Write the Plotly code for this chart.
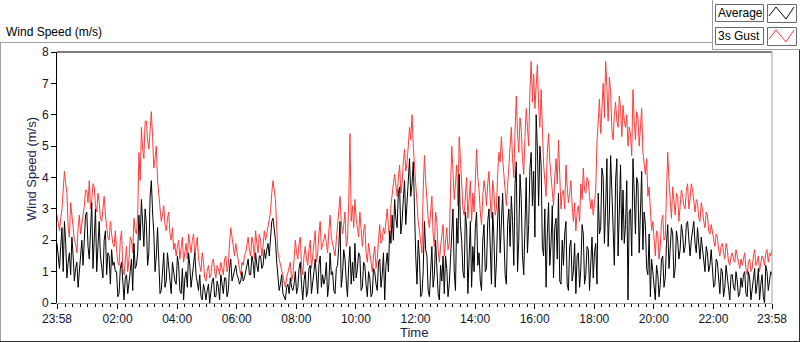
import plotly.graph_objects as go
import pandas as pd

# ---- data: samples every 5 min from 23:58 (one row per hour) ----
gust_h = [
    [2.8, 2.3, 3.0, 4.2, 3.5, 2.1, 2.7, 2.0, 1.6, 2.8, 2.5, 3.1],
    [3.6, 3.9, 3.3, 3.7, 2.9, 3.2, 2.6, 3.4, 2.4, 2.0, 2.2, 1.8],
    [1.7, 1.2, 2.3, 0.9, 1.8, 1.4, 2.0, 2.7, 2.2, 4.8, 5.6, 4.6],
    [5.8, 4.9, 6.1, 4.3, 5.0, 3.4, 2.6, 3.1, 2.3, 2.9, 2.0, 1.7],
    [1.5, 2.0, 1.7, 1.3, 1.9, 2.2, 1.6, 2.2, 1.8, 1.4, 1.0, 1.3],
    [0.7, 1.2, 0.9, 1.4, 0.8, 1.1, 1.3, 0.9, 1.5, 1.2, 2.4, 1.7],
    [1.9, 1.4, 0.9, 1.2, 1.6, 2.1, 1.5, 1.9, 2.3, 1.6, 2.0, 1.8],
    [2.0, 2.4, 2.9, 3.9, 3.3, 1.6, 1.2, 0.8, 0.5, 1.0, 1.3, 0.9],
    [2.0, 1.4, 2.1, 0.9, 1.8, 1.2, 2.0, 1.5, 2.3, 1.6, 2.6, 1.9],
    [2.2, 1.6, 2.8, 1.9, 1.5, 2.4, 3.4, 2.2, 2.9, 2.0, 5.4, 3.1],
    [3.3, 2.4, 2.9, 1.8, 2.5, 1.3, 1.6, 1.0, 1.8, 1.4, 2.5, 2.0],
    [2.2, 3.0, 2.0, 3.6, 4.1, 3.4, 4.4, 3.8, 4.9, 4.5, 5.6, 6.0],
    [4.4, 3.0, 2.3, 1.6, 4.7, 3.2, 2.4, 3.4, 1.8, 2.6, 1.3, 2.1],
    [1.5, 2.4, 1.9, 5.0, 3.3, 4.4, 5.3, 3.9, 2.8, 4.0, 3.2, 2.6],
    [2.9, 4.9, 3.6, 2.5, 3.9, 3.1, 4.2, 2.7, 3.5, 3.0, 4.8, 5.3],
    [4.2, 3.1, 4.5, 5.6, 4.0, 6.6, 4.8, 5.5, 4.1, 6.2, 5.0, 7.7],
    [7.3, 7.0, 6.3, 6.8, 4.4, 3.4, 5.4, 4.0, 3.1, 4.6, 5.2, 3.0],
    [3.6, 4.4, 3.2, 3.9, 2.6, 2.3, 3.1, 3.8, 4.3, 3.5, 3.9, 3.0],
    [2.8, 3.6, 6.0, 5.4, 7.0, 7.7, 5.8, 6.7, 5.2, 6.4, 5.6, 6.2],
    [6.3, 5.6, 5.0, 5.4, 6.8, 5.2, 5.9, 5.5, 4.8, 4.1, 3.4, 2.8],
    [2.6, 1.5, 2.2, 1.8, 2.8, 2.1, 4.8, 3.2, 3.7, 2.8, 3.4, 3.0],
    [3.4, 3.0, 3.8, 3.3, 3.6, 2.9, 3.2, 2.6, 3.0, 2.4, 2.8, 2.2],
    [2.3, 1.8, 2.1, 1.5, 1.9, 1.4, 1.7, 1.2, 1.6, 1.3, 1.5, 1.1],
    [1.2, 1.6, 0.9, 1.4, 1.1, 1.7, 1.3, 1.0, 1.5, 1.2, 1.7, 1.6, 1.7],
]
# readings half-way (2.5 min later) between the samples above
gust_mid_h = [
    [2.5, 2.7, 3.6, 3.8, 2.4, 3.2, 2.2, 1.9, 2.4, 2.2, 2.9, 3.6],
    [3.2, 3.0, 3.8, 3.1, 3.5, 2.7, 3.0, 2.8, 2.1, 2.6, 1.9, 2.3],
    [1.3, 2.0, 1.1, 1.5, 1.0, 2.1, 1.6, 2.3, 2.8, 3.9, 4.9, 5.8],
    [5.2, 5.5, 5.3, 4.6, 3.9, 3.0, 2.8, 2.5, 2.7, 2.2, 2.4, 1.9],
    [1.8, 1.4, 2.1, 1.6, 1.4, 1.9, 2.0, 1.5, 2.1, 1.2, 1.6, 0.8],
    [1.0, 0.8, 1.3, 1.0, 1.2, 0.9, 1.1, 1.4, 1.0, 1.9, 2.1, 1.5],
    [1.6, 1.1, 1.3, 1.5, 1.9, 1.7, 2.1, 1.4, 1.9, 2.2, 1.5, 2.3],
    [2.2, 2.7, 3.5, 3.6, 2.4, 1.4, 1.0, 0.6, 0.8, 1.2, 0.7, 1.4],
    [1.6, 1.9, 1.2, 1.5, 1.4, 1.7, 1.1, 2.0, 1.3, 2.2, 1.7, 2.1],
    [1.9, 2.3, 2.1, 1.7, 2.0, 2.9, 2.6, 2.5, 1.8, 3.2, 2.6, 2.4],
    [2.7, 2.1, 2.2, 2.3, 1.6, 1.9, 1.2, 1.5, 1.1, 2.0, 1.9, 2.4],
    [2.6, 2.4, 3.1, 3.8, 3.7, 4.0, 3.5, 4.5, 4.2, 5.0, 5.2, 5.0],
    [3.7, 2.6, 1.9, 3.6, 3.9, 2.7, 3.0, 2.2, 2.9, 1.7, 1.8, 2.5],
    [2.0, 1.7, 3.6, 4.2, 3.8, 3.1, 4.6, 3.0, 3.6, 2.7, 3.9, 3.5],
    [3.8, 4.0, 2.9, 3.4, 3.6, 3.8, 3.3, 3.9, 2.8, 4.1, 4.5, 4.6],
    [3.6, 3.8, 5.1, 4.6, 5.5, 5.4, 5.9, 4.6, 5.3, 5.6, 6.8, 6.4],
    [6.2, 7.6, 5.6, 5.2, 3.9, 4.8, 4.5, 3.5, 4.0, 3.8, 4.1, 3.5],
    [3.0, 3.7, 3.5, 3.1, 3.2, 2.9, 2.6, 3.3, 3.6, 4.0, 3.4, 3.3],
    [3.2, 5.1, 6.5, 6.3, 5.9, 6.9, 7.2, 5.5, 6.0, 5.8, 6.6, 5.3],
    [5.8, 6.0, 5.6, 4.7, 5.8, 6.1, 5.0, 6.2, 4.4, 4.6, 3.7, 2.3],
    [1.9, 2.3, 1.4, 2.6, 2.0, 3.5, 3.9, 2.7, 3.1, 3.5, 2.6, 3.6],
    [3.1, 3.6, 3.0, 3.8, 3.2, 3.3, 2.7, 3.2, 2.6, 2.9, 2.3, 2.5],
    [2.0, 2.2, 1.7, 1.8, 1.6, 1.9, 1.3, 1.5, 1.4, 1.7, 1.2, 1.4],
    [1.4, 1.1, 1.3, 1.0, 1.5, 1.2, 1.5, 1.3, 1.4, 1.6, 1.3, 1.5],
]
avg_h = [
    [1.9, 1.1, 2.4, 2.6, 0.8, 1.6, 2.1, 0.7, 1.3, 1.0, 2.0, 2.3],
    [2.9, 1.4, 3.2, 2.2, 1.0, 2.6, 1.2, 2.0, 0.9, 1.5, 1.7, 1.3],
    [1.0, 0.3, 1.3, 0.1, 0.9, 0.6, 1.4, 1.9, 1.2, 2.8, 3.3, 1.8],
    [2.5, 1.6, 3.9, 2.2, 1.5, 1.0, 0.4, 1.6, 0.7, 1.2, 0.3, 0.9],
    [0.6, 1.2, 0.3, 0.1, 1.0, 1.6, 0.5, 1.3, 0.9, 0.4, 0.2, 0.6],
    [0.1, 0.6, 0.3, 0.8, 0.2, 0.5, 0.9, 0.3, 0.8, 0.4, 1.4, 0.9],
    [1.2, 0.8, 0.7, 0.7, 1.0, 1.4, 0.9, 1.3, 1.6, 1.0, 1.5, 1.2],
    [1.4, 1.9, 2.2, 2.7, 2.0, 0.9, 0.6, 0.3, 0.1, 0.6, 0.8, 0.4],
    [1.0, 0.5, 1.3, 0.1, 1.0, 0.4, 1.2, 0.6, 1.4, 0.3, 1.5, 0.9],
    [0.8, 0.2, 1.6, 1.0, 0.3, 1.2, 2.6, 0.9, 1.4, 0.2, 1.8, 1.3],
    [1.9, 1.1, 1.5, 0.5, 1.2, 0.2, 0.8, 0.3, 1.0, 0.4, 1.4, 0.9],
    [0.1, 1.6, 2.3, 2.8, 3.3, 2.4, 3.7, 2.6, 3.9, 3.1, 4.6, 3.8],
    [2.8, 0.6, 1.4, 0.3, 2.6, 1.5, 0.2, 1.8, 0.9, 1.3, 0.1, 0.7],
    [0.3, 1.1, 0.6, 2.2, 1.0, 2.7, 4.1, 2.0, 0.8, 2.4, 1.5, 0.5],
    [1.0, 2.9, 1.6, 0.4, 2.5, 1.1, 3.0, 0.6, 2.1, 1.3, 3.4, 2.6],
    [2.2, 0.6, 3.0, 3.4, 1.2, 4.5, 2.0, 3.3, 0.9, 4.0, 2.5, 4.8],
    [4.2, 6.0, 3.1, 4.4, 1.5, 0.5, 3.2, 1.9, 0.8, 2.7, 3.5, 0.6],
    [1.2, 2.6, 0.4, 2.0, 1.0, 0.3, 1.6, 1.1, 2.2, 0.9, 1.7, 1.3],
    [0.8, 1.9, 3.5, 2.4, 4.0, 3.1, 1.8, 4.7, 2.7, 3.9, 1.5, 4.4],
    [3.6, 2.5, 0.1, 3.0, 4.6, 2.2, 3.8, 3.2, 1.7, 2.5, 0.9, 0.2],
    [1.0, 0.1, 0.9, 0.6, 1.5, 0.8, 2.5, 1.6, 2.2, 1.1, 2.0, 1.7],
    [2.2, 1.8, 2.6, 1.5, 2.3, 1.9, 2.4, 1.4, 1.7, 1.0, 1.6, 1.2],
    [1.1, 0.6, 1.3, 0.3, 1.0, 0.5, 0.8, 0.1, 0.9, 0.4, 0.7, 0.3],
    [0.5, 1.0, 0.2, 0.8, 0.4, 1.1, 0.6, 0.1, 0.9, 0.0, 1.0, 0.8, 0.9],
]
avg_mid_h = [
    [1.4, 1.8, 1.0, 1.9, 1.3, 0.9, 1.5, 1.1, 0.5, 1.7, 1.2, 2.8],
    [1.8, 2.5, 1.1, 3.0, 2.0, 1.5, 0.8, 2.3, 1.6, 0.6, 1.2, 1.0],
    [0.2, 1.1, 0.5, 0.8, 0.3, 1.0, 0.4, 1.1, 1.6, 2.0, 2.4, 3.0],
    [1.2, 3.4, 2.9, 1.0, 2.4, 0.3, 1.2, 0.5, 1.6, 0.9, 1.3, 0.7],
    [1.5, 0.4, 1.1, 0.8, 0.5, 1.2, 0.9, 1.6, 0.6, 0.9, 0.1, 0.4],
    [0.4, 0.0, 0.7, 0.2, 0.7, 0.1, 0.5, 0.8, 0.2, 1.1, 0.7, 1.1],
    [0.9, 0.6, 1.0, 0.8, 1.2, 0.9, 1.5, 0.8, 1.2, 1.5, 1.1, 1.7],
    [1.7, 1.5, 2.6, 2.3, 1.3, 0.4, 0.9, 0.2, 0.5, 0.3, 0.5, 0.6],
    [0.3, 1.1, 0.6, 0.7, 0.2, 1.1, 0.3, 1.0, 0.8, 1.2, 0.5, 0.6],
    [1.3, 0.6, 0.9, 0.4, 1.1, 1.8, 0.5, 1.7, 0.7, 1.2, 0.6, 0.7],
    [0.8, 1.6, 0.4, 1.3, 0.6, 1.0, 0.2, 1.1, 0.6, 1.3, 0.5, 1.6],
    [1.2, 1.0, 1.9, 2.0, 2.7, 3.5, 2.2, 3.3, 2.5, 3.9, 3.4, 4.5],
    [1.5, 2.0, 0.2, 1.0, 1.7, 0.4, 1.3, 0.5, 2.0, 0.3, 1.2, 1.5],
    [1.5, 0.2, 1.7, 3.0, 0.4, 1.9, 2.5, 1.0, 2.9, 0.3, 2.6, 1.8],
    [2.4, 1.2, 0.7, 2.0, 1.0, 2.6, 1.4, 2.9, 0.5, 2.7, 1.6, 3.5],
    [0.9, 2.5, 1.8, 2.6, 3.8, 1.0, 4.1, 1.5, 2.7, 1.6, 4.3, 3.1],
    [2.1, 4.9, 5.0, 1.8, 3.0, 2.2, 1.2, 3.1, 2.4, 1.4, 0.7, 2.0],
    [2.2, 0.6, 1.8, 0.7, 1.9, 1.5, 0.5, 2.5, 0.6, 1.8, 0.4, 2.1],
    [1.6, 0.6, 2.2, 4.3, 1.9, 4.6, 2.8, 3.4, 1.2, 4.6, 3.1, 2.0],
    [1.9, 3.9, 2.9, 1.5, 3.5, 4.0, 1.6, 4.2, 2.9, 1.1, 2.2, 1.4],
    [0.4, 1.2, 0.2, 1.4, 0.5, 1.9, 1.1, 2.4, 0.8, 2.3, 1.4, 2.5],
    [1.6, 2.5, 2.0, 2.0, 2.6, 1.6, 1.9, 2.1, 1.2, 1.8, 1.0, 1.7],
    [0.5, 1.4, 0.7, 1.1, 0.2, 1.2, 0.4, 0.9, 0.5, 1.0, 0.2, 0.8],
    [0.9, 0.3, 1.0, 0.1, 0.8, 0.3, 1.1, 0.6, 0.2, 1.2, 0.4, 1.0],
]

def merge(main_rows, mid_rows):
    out = []
    for main, mid in zip(main_rows, mid_rows):
        for i, v in enumerate(main):
            out.append(v)
            if i < len(mid):
                out.append(mid[i])
    return out

gust = merge(gust_h, gust_mid_h)
average = merge(avg_h, avg_mid_h)

start = "2024-01-01 23:58"
end = "2024-01-02 23:58"
times = pd.date_range(start, periods=len(gust), freq="150s")

tick_vals = [start] + [f"2024-01-02 {h:02d}:00" for h in range(2, 24, 2)] + [end]
tick_text = ["23:58"] + [f"{h:02d}:00" for h in range(2, 24, 2)] + ["23:58"]
y_ticks = [0, 1, 2, 3, 4, 5, 6, 7, 8]

# ---- geometry helpers (pixel -> paper) ----
W, H = 800, 342
L, R, T, B = 57, 772, 52, 303
def px(x):
    return (x - L) / (R - L)
def py(y):
    return (B - y) / (B - T)

FONT = "Liberation Sans, Arial, sans-serif"
TXT = "#10122e"

fig = go.Figure()
fig.add_trace(go.Scatter(x=times, y=gust, mode="lines", name="3s Gust",
                         line=dict(color="#ff3c3c", width=1)))
fig.add_trace(go.Scatter(x=times, y=average, mode="lines", name="Average",
                         line=dict(color="#000000", width=1)))

shapes = []
def line(x0, y0, x1, y1, color, w=1):
    shapes.append(dict(type="line", xref="paper", yref="paper",
                       x0=px(x0), y0=py(y0), x1=px(x1), y1=py(y1),
                       line=dict(color=color, width=w), layer="above"))
def rect(x0, y0, x1, y1, color, fill="white"):
    shapes.append(dict(type="rect", xref="paper", yref="paper",
                       x0=px(x0), y0=py(y0), x1=px(x1), y1=py(y1),
                       line=dict(color=color, width=1), fillcolor=fill, layer="above"))
def path(pts, color):
    d = "M " + " L ".join(f"{px(a)},{py(b)}" for a, b in pts)
    shapes.append(dict(type="path", xref="paper", yref="paper", path=d,
                       line=dict(color=color, width=1), layer="above"))

# outer frame
line(0, 42.5, 712, 42.5, "#a0a0a0")
line(0.5, 42, 0.5, 342, "#a0a0a0")
line(0, 341.5, 800, 341.5, "#303030")
line(799.5, 49, 799.5, 342, "#303030")
line(712.5, 0, 712.5, 49, "#a0a0a0")
line(712, 49.5, 800, 49.5, "#a0a0a0")
# plot frame top/right
line(L, T, R, T, "#000000")
line(R, T, R, B, "#a0a0a0")

# legend
rect(715.5, 4.5, 763.5, 21.5, "#6a6a6a")
rect(767.5, 4.5, 796.5, 22.5, "#6a6a6a")
rect(715.5, 27.5, 763.5, 44.5, "#6a6a6a")
rect(767.5, 27.5, 796.5, 45.5, "#6a6a6a")
path([(769, 16), (776, 7), (786, 19), (794, 7)], "#000000")
path([(769, 39), (776, 30), (786, 42), (794, 30)], "#ff3c3c")

annotations = [
    dict(text="Wind Speed (m/s)", x=px(4), y=py(32), xanchor="left", yanchor="middle",
         font=dict(size=12, color="#000000", family=FONT)),
    dict(text="Average", x=px(716), y=py(13), xanchor="left", yanchor="middle",
         font=dict(size=12, color="#000000", family=FONT)),
    dict(text="3s Gust", x=px(716), y=py(36), xanchor="left", yanchor="middle",
         font=dict(size=12, color="#000000", family=FONT)),
    dict(text="Wind Speed (m/s)", x=px(31), y=py(169), xanchor="center", yanchor="middle",
         textangle=-90, font=dict(size=13, color="#1a2350", family=FONT)),
    dict(text="Time", x=px(414), y=py(332), xanchor="center", yanchor="middle",
         font=dict(size=13, color="#1a2350", family=FONT)),
]
for a in annotations:
    a.update(xref="paper", yref="paper", showarrow=False)

fig.update_layout(
    width=W, height=H,
    margin=dict(l=L, r=W - R, t=T, b=H - B, autoexpand=False),
    paper_bgcolor="white", plot_bgcolor="white",
    showlegend=False,
    shapes=shapes, annotations=annotations,
    font=dict(family=FONT, size=12, color=TXT),
    xaxis=dict(type="date", range=[start, end], tickmode="array",
               tickvals=tick_vals, ticktext=tick_text, automargin=False,
               ticks="outside", ticklen=5, tickcolor="#000000", tickwidth=1,
               showgrid=False, zeroline=False,
               showline=True, linecolor="#a0a0a0", linewidth=1,
               tickfont=dict(size=12, color=TXT, family=FONT),
               minor=dict(ticks="outside", ticklen=3, tickcolor="#000000",
                          dtick=15 * 60 * 1000, tick0="2024-01-02 00:00",
                          showgrid=False)),
    yaxis=dict(range=[0, 8], tickvals=y_ticks, ticks="outside", ticklen=5,
               automargin=False,
               tickcolor="#000000", showgrid=False, zeroline=False,
               showline=True, linecolor="#000000", linewidth=1,
               tickfont=dict(size=12, color=TXT, family=FONT)),
)

fig.write_html("out.html", config={"displayModeBar": False},
               post_script="document.body.style.margin='0';document.body.style.overflow='hidden';")
